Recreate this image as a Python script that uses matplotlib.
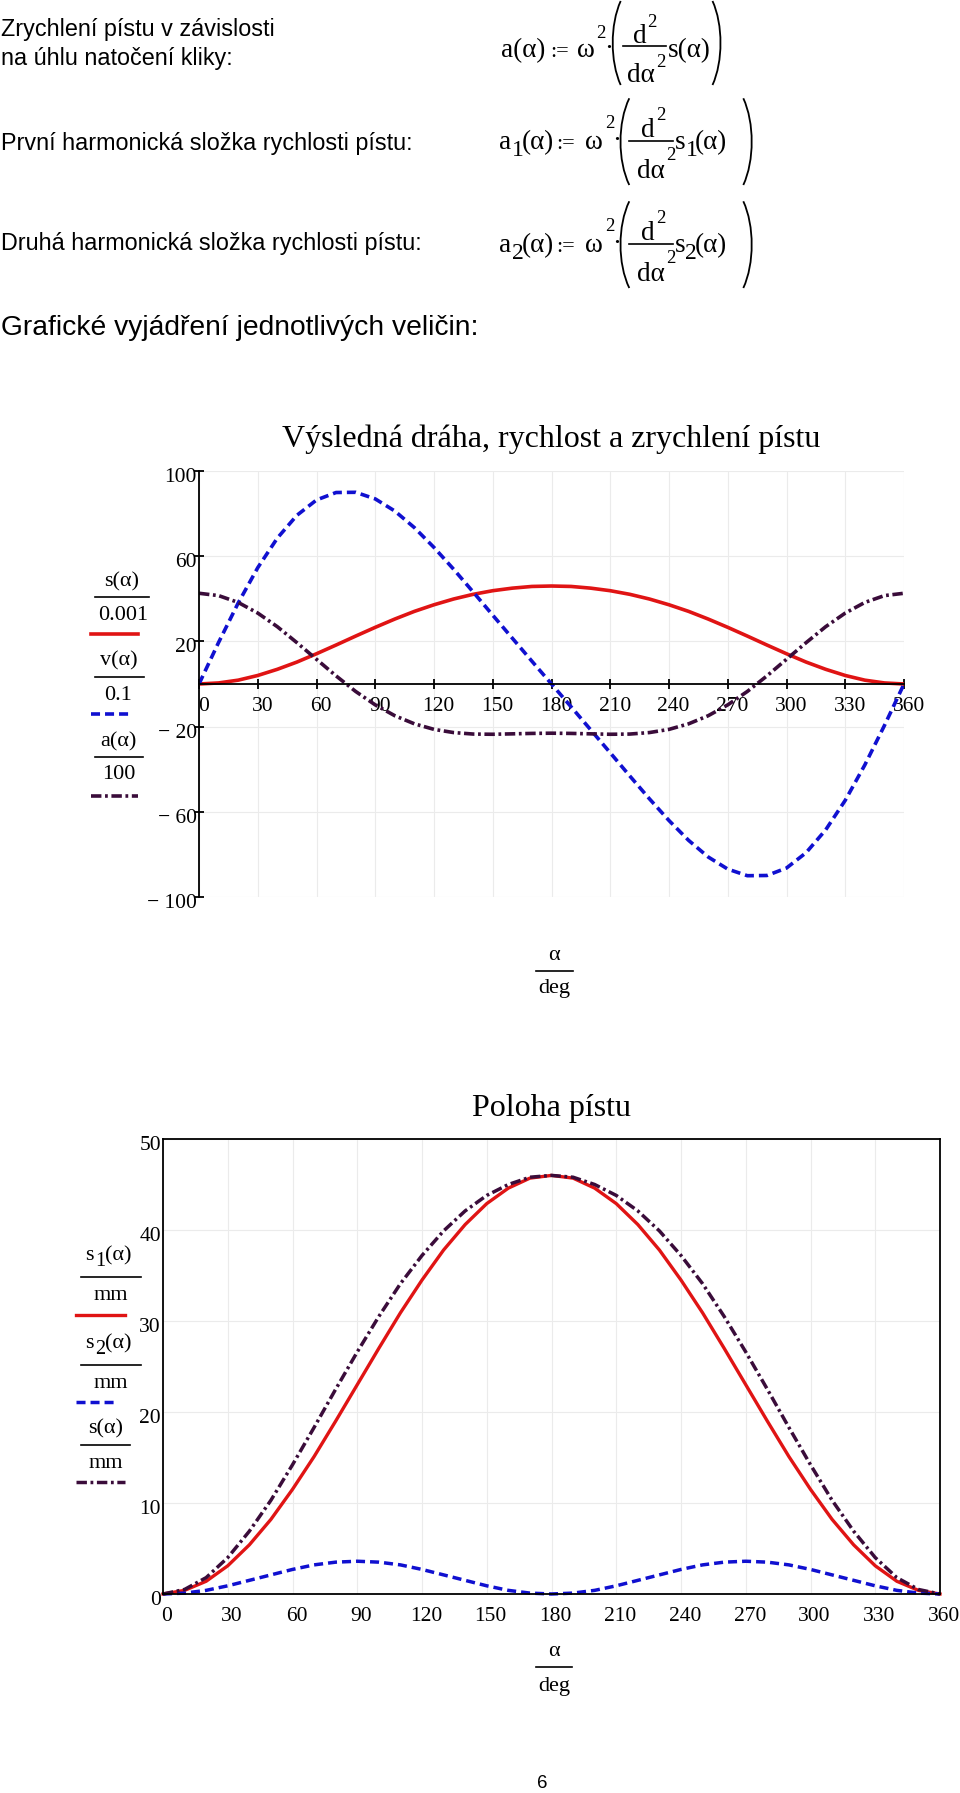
import matplotlib
matplotlib.use('Agg')
import matplotlib.pyplot as plt
from matplotlib.lines import Line2D
from matplotlib.patches import PathPatch
from matplotlib.path import Path
from matplotlib.transforms import Affine2D, ScaledTranslation

plt.rcParams['lines.scale_dashes'] = False

# ---------------- data ----------------
alpha_deg = [0, 10, 20, 30, 40, 50, 60, 70, 80, 90, 100, 110, 120, 130, 140, 150, 160, 170, 180,
             190, 200, 210, 220, 230, 240, 250, 260, 270, 280, 290, 300, 310, 320, 330, 340, 350, 360]

# s(alpha)/0.001  (= s in mm)
s_mm = [0, 0.5, 1.8, 4.0, 6.9, 10.3, 14.2, 18.3, 22.5, 26.6, 30.5, 34.1, 37.2, 39.9, 42.1, 43.8, 45.0, 45.8, 46.0,
        45.8, 45.0, 43.8, 42.1, 39.9, 37.2, 34.1, 30.5, 26.6, 22.5, 18.3, 14.2, 10.3, 6.9, 4.0, 1.8, 0.5, 0]
# v(alpha)/0.1
v_scaled = [0, 19.5, 38.0, 54.6, 68.5, 79.2, 86.4, 89.9, 90.0, 86.9, 81.2, 73.4, 64.1, 53.9, 43.2, 32.3, 21.5, 10.7, 0,
            -10.7, -21.5, -32.3, -43.2, -53.9, -64.1, -73.4, -81.2, -86.9, -90.0, -89.9, -86.4, -79.2, -68.5, -54.6,
            -38.0, -19.5, 0]
# a(alpha)/100
a_scaled = [42.6, 41.5, 38.3, 33.3, 26.9, 19.4, 11.6, 3.8, -3.5, -9.8, -14.9, -18.7, -21.3, -22.8, -23.5, -23.6,
            -23.4, -23.2, -23.1, -23.2, -23.4, -23.6, -23.5, -22.8, -21.3, -18.7, -14.9, -9.8, -3.5, 3.8, 11.6,
            19.4, 26.9, 33.3, 38.3, 41.5, 42.6]
# s1(alpha)/mm, s2(alpha)/mm
s1_mm = [0, 0.4, 1.4, 3.1, 5.4, 8.2, 11.5, 15.1, 19.0, 23.0, 27.0, 30.9, 34.5, 37.8, 40.6, 42.9, 44.6, 45.7, 46.0,
         45.7, 44.6, 42.9, 40.6, 37.8, 34.5, 30.9, 27.0, 23.0, 19.0, 15.1, 11.5, 8.2, 5.4, 3.1, 1.4, 0.4, 0]
s2_mm = [0, 0.1, 0.4, 0.9, 1.5, 2.1, 2.7, 3.2, 3.5, 3.6, 3.5, 3.2, 2.7, 2.1, 1.5, 0.9, 0.4, 0.1, 0,
         0.1, 0.4, 0.9, 1.5, 2.1, 2.7, 3.2, 3.5, 3.6, 3.5, 3.2, 2.7, 2.1, 1.5, 0.9, 0.4, 0.1, 0]

x_ticks = [0, 30, 60, 90, 120, 150, 180, 210, 240, 270, 300, 330, 360]
y_ticks_1 = [100, 60, 20, -20, -60, -100]
y_labels_1 = ['100', '60', '20', '\u2212 20', '\u2212 60', '\u2212 100']
y_ticks_2 = [0, 10, 20, 30, 40, 50]

title_1 = 'Výsledná dráha, rychlost a zrychlení pístu'
title_2 = 'Poloha pístu'

# ---------------- figure ----------------
W, H = 960, 1793
fig = plt.figure(figsize=(W / 100, H / 100), dpi=100)
P = Affine2D().scale(0.01, -0.01).translate(0, H / 100) + fig.dpi_scale_trans

SERIF = ['Liberation Serif', 'DejaVu Serif']
SANS = ['Liberation Sans', 'DejaVu Sans']
RED = '#e01414'
BLUE = '#1010d0'
PURP = '#3a0c3a'
DASH = (6.5, 3.6)
DASHDOT = (7.5, 2.6, 2.0, 2.6)


def txt(x, y, s, size, family=SERIF, ha='left', va='baseline'):
    fig.text(x, y, s, transform=P, fontsize=size, family=family, ha=ha, va=va, color='black')


def hline(x0, x1, y, lw=1.0, color='black', dashes=None):
    ln = Line2D([x0, x1], [y, y], transform=P, lw=lw, color=color)
    if dashes is not None:
        ln.set_dashes(dashes)
    fig.add_artist(ln)


def paren(x_in, x_out, y0, y1):
    h = y1 - y0
    c = (x_out - 0.25 * x_in) / 0.75
    verts = [(x_in, y0), (c, y0 + 0.28 * h), (c, y1 - 0.28 * h), (x_in, y1)]
    codes = [Path.MOVETO, Path.CURVE4, Path.CURVE4, Path.CURVE4]
    fig.add_artist(PathPatch(Path(verts, codes), transform=P, fill=False, lw=1.3, edgecolor='black'))


# ---------------- top texts ----------------
TS = 16.8
txt(1, 36, 'Zrychlení pístu v závislosti', TS, SANS)
txt(1, 65, 'na úhlu natočení kliky:', TS, SANS)
txt(1, 150, 'První harmonická složka rychlosti pístu:', TS, SANS)
txt(1, 250, 'Druhá harmonická složka rychlosti pístu:', TS, SANS)
txt(1, 335, 'Grafické vyjádření jednotlivých veličin:', 20.3, SANS)

FS, FSS, FSA = 19.5, 13.5, 16.0
# formula 1
b = 56.7
txt(500.7, b, 'a(α)', FS)
txt(550, b, ':=', FSA)
txt(576.5, b, 'ω', FS)
txt(596.5, 38.5, '2', FSS)
txt(604, b - 1, '·', FS)
paren(620.7, 612.7, 1, 85)
txt(632.5, 43.3, 'd', FS)
txt(647.5, 26.7, '2', FSS)
hline(622.7, 666, 46, lw=1.2)
txt(627, 81.7, 'dα', FS)
txt(656, 66.7, '2', FSS)
txt(667.5, b, 's(α)', FS)
paren(712.5, 720.5, 1, 85)


def formula_sub(dy, sub):
    b = 149 + dy
    txt(499.5, b, 'a', FS)
    txt(512, b + 7, sub, 17)
    txt(521.5, b, '(α)', FS)
    txt(556, b, ':=', FSA)
    txt(585.5, b, 'ω', FS)
    txt(605.5, 128.3 + dy, '2', FSS)
    txt(612.5, b - 1, '·', FS)
    paren(629.3, 620.5, 98.3 + dy, 185 + dy)
    txt(641.5, 136.7 + dy, 'd', FS)
    txt(656.5, 120 + dy, '2', FSS)
    hline(629.3, 673, 140.7 + dy, lw=1.2)
    txt(637.5, 178.3 + dy, 'dα', FS)
    txt(666, 160 + dy, '2', FSS)
    txt(674.5, b, 's', FS)
    txt(685.5, b + 7, sub, 17)
    txt(695, b, '(α)', FS)
    paren(743.3, 751.7, 98.3 + dy, 185 + dy)


formula_sub(0, '1')
formula_sub(103, '2')

TK = 15.5   # tick label size
LS = 16.0   # legend / axis-label size

# ---------------- chart 1 ----------------
ax1 = fig.add_axes([199 / W, 1 - 897 / H, 705 / W, 426 / H])
ax1.plot(alpha_deg, s_mm, color=RED, lw=2.6)
l_v, = ax1.plot(alpha_deg, v_scaled, color=BLUE, lw=2.6)
l_v.set_dashes(DASH)
l_a, = ax1.plot(alpha_deg, a_scaled, color=PURP, lw=2.6)
l_a.set_dashes(DASHDOT)
ax1.set_xlim(0, 360)
ax1.set_ylim(-100, 100)
ax1.set_xticks(x_ticks)
ax1.set_xticklabels([str(t) for t in x_ticks])
ax1.set_yticks(y_ticks_1)
ax1.set_yticklabels(y_labels_1)
ax1.grid(True, color='#ebebeb', lw=0.8)
ax1.set_axisbelow(True)
ax1.spines['top'].set_visible(False)
ax1.spines['right'].set_visible(False)
ax1.spines['bottom'].set_position(('data', 0))
for sp in ('left', 'bottom'):
    ax1.spines[sp].set_linewidth(1.3)
ax1.tick_params(axis='both', direction='inout', length=6.5, width=1.3, labelsize=TK)
ax1.tick_params(axis='x', pad=6.0)
ax1.tick_params(axis='y', pad=-1.8)
for lab in ax1.get_xticklabels():
    lab.set_fontfamily(SERIF)
    lab.set_transform(lab.get_transform() + ScaledTranslation(0.045, 0, fig.dpi_scale_trans))
for lab in ax1.get_yticklabels():
    lab.set_fontfamily(SERIF)
    lab.set_transform(lab.get_transform() + ScaledTranslation(0, -0.04, fig.dpi_scale_trans))

txt(551.5, 447.3, title_1, 23, ha='center')

# legend 1
txt(121.7, 581.7, 's(α)', LS, ha='center', va='center')
hline(95, 149.3, 596.7, lw=1.2)
txt(122.7, 615, '0.001', LS, ha='center', va='center')
hline(90.7, 138.3, 634, lw=2.6, color=RED)
txt(119.3, 660.7, 'v(α)', LS, ha='center', va='center')
hline(95, 144.3, 676.7, lw=1.2)
txt(118.3, 695, '0.1', LS, ha='center', va='center')
hline(90.7, 131, 714, lw=2.6, color=BLUE, dashes=DASH)
txt(118.3, 741.7, 'a(α)', LS, ha='center', va='center')
hline(95, 142.7, 756.7, lw=1.2)
txt(119, 774.3, '100', LS, ha='center', va='center')
hline(90.7, 138.3, 796, lw=2.6, color=PURP, dashes=DASHDOT)

# x label 1
txt(554, 955, 'α', LS, ha='center', va='center')
hline(536, 573, 971, lw=1.2)
txt(554, 989, 'deg', LS, ha='center', va='center')

# ---------------- chart 2 ----------------
ax2 = fig.add_axes([163 / W, 1 - 1594 / H, 777 / W, 455 / H])
ax2.plot(alpha_deg, s1_mm, color=RED, lw=2.4, clip_on=False)
l2, = ax2.plot(alpha_deg, s2_mm, color=BLUE, lw=2.5, clip_on=False)
l2.set_dashes(DASH)
l3, = ax2.plot(alpha_deg, s_mm, color=PURP, lw=2.5, clip_on=False)
l3.set_dashes(DASHDOT)
ax2.set_xlim(0, 360)
ax2.set_ylim(0, 50)
ax2.set_xticks(x_ticks)
ax2.set_xticklabels([str(t) for t in x_ticks])
ax2.set_yticks(y_ticks_2)
ax2.set_yticklabels([str(t) for t in y_ticks_2])
ax2.grid(True, color='#ebebeb', lw=0.8)
ax2.set_axisbelow(True)
for sp in ax2.spines.values():
    sp.set_linewidth(1.3)
ax2.tick_params(axis='both', length=0, labelsize=TK)
ax2.tick_params(axis='x', pad=9.5)
ax2.tick_params(axis='y', pad=1.5)
for lab in ax2.get_xticklabels():
    lab.set_fontfamily(SERIF)
    lab.set_transform(lab.get_transform() + ScaledTranslation(0.04, 0, fig.dpi_scale_trans))
for lab in ax2.get_yticklabels():
    lab.set_fontfamily(SERIF)
    lab.set_transform(lab.get_transform() + ScaledTranslation(0, -0.04, fig.dpi_scale_trans))

txt(551.5, 1116, title_2, 23, ha='center')


def sub_label(x, yb, sub):
    txt(x, yb, 's', LS)
    txt(x + 9.5, yb + 6, sub, 14.5)
    txt(x + 19.5, yb, '(α)', LS)


# legend 2
sub_label(85.5, 1260.5, '1')
hline(81, 141, 1277.3, lw=1.2)
txt(111, 1295.7, 'mm', LS, ha='center', va='center')
hline(76.4, 124.8, 1314.5, lw=2.4, color=RED)
sub_label(85.5, 1348.5, '2')
hline(81, 141, 1365, lw=1.2)
txt(111, 1383.7, 'mm', LS, ha='center', va='center')
hline(76.4, 118, 1401.8, lw=2.5, color=BLUE, dashes=DASH)
txt(106, 1428.8, 's(α)', LS, ha='center', va='center')
hline(81, 130, 1444.5, lw=1.2)
txt(106, 1464, 'mm', LS, ha='center', va='center')
hline(76.4, 125, 1482, lw=2.5, color=PURP, dashes=DASHDOT)

# x label 2
txt(554, 1651.7, 'α', LS, ha='center', va='center')
hline(536, 572, 1666.7, lw=1.2)
txt(554, 1686.7, 'deg', LS, ha='center', va='center')

# page number
txt(542, 1784, '6', 13.5, SANS, ha='center', va='center')

fig.savefig('out.png', dpi=100)
